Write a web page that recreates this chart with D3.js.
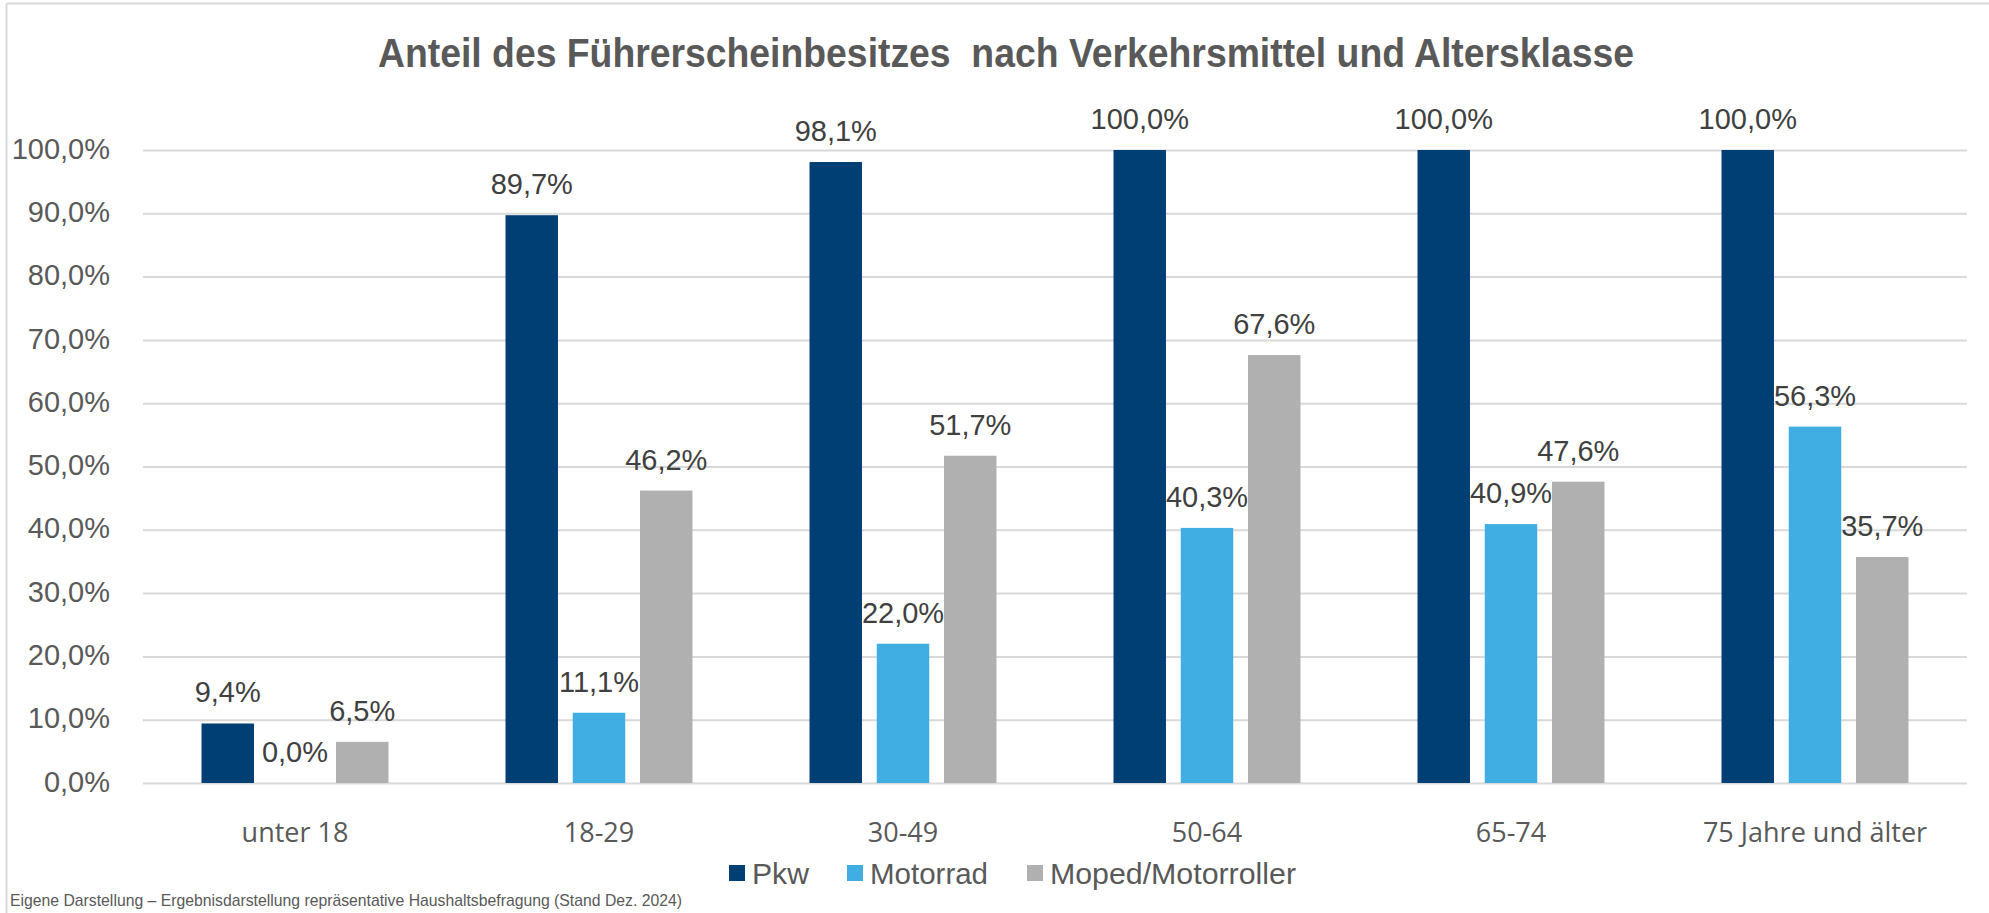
<!DOCTYPE html>
<html>
<head>
<meta charset="utf-8">
<script src="https://cdn.jsdelivr.net/npm/d3@7"></script>
<style>
  body { margin: 0; background: #fff; }
  svg { display: block; }
</style>
</head>
<body>
<div id="figure_area"></div>
<script>
// ----- ----- ----- ----- ----- ----- ----- ----- -----
// DATA
var categories = ["unter 18", "18-29", "30-49", "50-64", "65-74", "75 Jahre und älter"];
var seriesNames = ["Pkw", "Motorrad", "Moped/Motorroller"];
var pkwValues = [9.4, 89.7, 98.1, 100.0, 100.0, 100.0];
var motorradValues = [0.0, 11.1, 22.0, 40.3, 40.9, 56.3];
var mopedValues = [6.5, 46.2, 51.7, 67.6, 47.6, 35.7];
var yTicks = [0, 10, 20, 30, 40, 50, 60, 70, 80, 90, 100];

var titleText = "Anteil des Führerscheinbesitzes  nach Verkehrsmittel und Altersklasse";
var footerText = "Eigene Darstellung – Ergebnisdarstellung repräsentative Haushaltsbefragung (Stand Dez. 2024)";

var seriesColors = ["#003f73", "#41aee3", "#b0b0b0"];

// ----- ----- ----- ----- ----- ----- ----- ----- -----
// FIGURE
const figure_size = { width: 1989, height: 913 };
const plot = { left: 143, right: 1967, top: 150, bottom: 783 };

var de = d3.formatLocale({ decimal: ",", thousands: ".", grouping: [3], currency: ["", " €"] });
var pctFormat = function (v) { return de.format(".1f")(v) + "%"; };

var svg = d3.select("#figure_area")
    .append("svg")
    .attr("width", figure_size.width)
    .attr("height", figure_size.height)
    .style("font-family", "'Liberation Sans', Arial, sans-serif");

// chart frame (left and top edge visible)
svg.append("line")
    .attr("x1", 6.5).attr("y1", 3.5).attr("x2", figure_size.width).attr("y2", 3.5)
    .attr("stroke", "#d9d9d9").attr("stroke-width", 2);
svg.append("line")
    .attr("x1", 6.5).attr("y1", 3.5).attr("x2", 6.5).attr("y2", figure_size.height)
    .attr("stroke", "#d9d9d9").attr("stroke-width", 2);

// title (condensed look)
svg.append("text")
    .attr("x", 1006)
    .attr("y", 67)
    .attr("text-anchor", "middle")
    .attr("font-size", 40)
    .attr("font-weight", "bold")
    .attr("fill", "#595959")
    .attr("textLength", 1256)
    .attr("lengthAdjust", "spacingAndGlyphs")
    .style("white-space", "pre")
    .text(titleText);

// scales
var x0 = d3.scaleBand()
    .domain(categories)
    .range([plot.left, plot.right]);

var x1 = d3.scaleBand()
    .domain(seriesNames)
    .range([0, x0.bandwidth()])
    .paddingInner(0.22)
    .paddingOuter(0.87);

var y_scale = d3.scaleLinear()
    .domain([0, 100])
    .range([plot.bottom, plot.top]);

// grid + y labels
var y_axis = d3.axisLeft(y_scale)
    .tickValues(yTicks)
    .tickSize(-(plot.right - plot.left))
    .tickPadding(33)
    .tickFormat(pctFormat);

var gy = svg.append("g")
    .attr("transform", "translate(" + plot.left + ",0)")
    .call(y_axis);
gy.select(".domain").remove();
gy.selectAll(".tick line")
    .attr("stroke", "#d9d9d9")
    .attr("stroke-width", 2);
gy.selectAll(".tick text")
    .attr("font-size", 29)
    .attr("font-family", "'Liberation Sans', Arial, sans-serif")
    .attr("fill", "#595959")
    .attr("dy", "0.28em");

// x labels
var x_axis = d3.axisBottom(x0).tickSize(0).tickPadding(40);
var gx = svg.append("g")
    .attr("transform", "translate(0," + plot.bottom + ")")
    .call(x_axis);
gx.select(".domain").remove();
gx.selectAll(".tick text")
    .attr("font-size", 27)
    .attr("font-family", "'Open Sans', sans-serif")
    .attr("fill", "#595959");

// bars
var rows = categories.map(function (c, i) {
    return { cat: c, vals: [pkwValues[i], motorradValues[i], mopedValues[i]] };
});

var groups = svg.selectAll("g.group")
    .data(rows)
    .enter().append("g")
    .attr("class", "group")
    .attr("transform", function (d) { return "translate(" + x0(d.cat) + ",0)"; });

groups.selectAll("rect")
    .data(function (d) { return d.vals.map(function (v, j) { return { s: seriesNames[j], v: v, j: j }; }); })
    .enter().append("rect")
    .attr("x", function (d) { return x1(d.s); })
    .attr("y", function (d) { return y_scale(d.v); })
    .attr("width", x1.bandwidth())
    .attr("height", function (d) { return y_scale(0) - y_scale(d.v); })
    .attr("fill", function (d) { return seriesColors[d.j]; });

groups.selectAll("text.lbl")
    .data(function (d) { return d.vals.map(function (v, j) { return { s: seriesNames[j], v: v, j: j }; }); })
    .enter().append("text")
    .attr("class", "lbl")
    .attr("x", function (d) { return x1(d.s) + x1.bandwidth() / 2; })
    .attr("y", function (d) { return y_scale(d.v) - 21; })
    .attr("text-anchor", "middle")
    .attr("font-size", 29)
    .attr("fill", "#404040")
    .text(function (d) { return pctFormat(d.v); });

// legend
var legendItems = [
    { name: seriesNames[0], x: 729, w: 57 },
    { name: seriesNames[1], x: 847, w: 118 },
    { name: seriesNames[2], x: 1027, w: 246 }
];
var legend = svg.append("g");
legendItems.forEach(function (item, i) {
    legend.append("rect")
        .attr("x", item.x)
        .attr("y", 865)
        .attr("width", 16)
        .attr("height", 16)
        .attr("fill", seriesColors[i]);
    legend.append("text")
        .attr("x", item.x + 23)
        .attr("y", 884)
        .attr("font-size", 30)
        .attr("fill", "#595959")
        .attr("textLength", item.w)
        .attr("lengthAdjust", "spacingAndGlyphs")
        .text(item.name);
});

// footer / source
svg.append("text")
    .attr("x", 10)
    .attr("y", 906)
    .attr("font-size", 17)
    .attr("fill", "#595959")
    .attr("textLength", 672)
    .attr("lengthAdjust", "spacingAndGlyphs")
    .text(footerText);
</script>
</body>
</html>
